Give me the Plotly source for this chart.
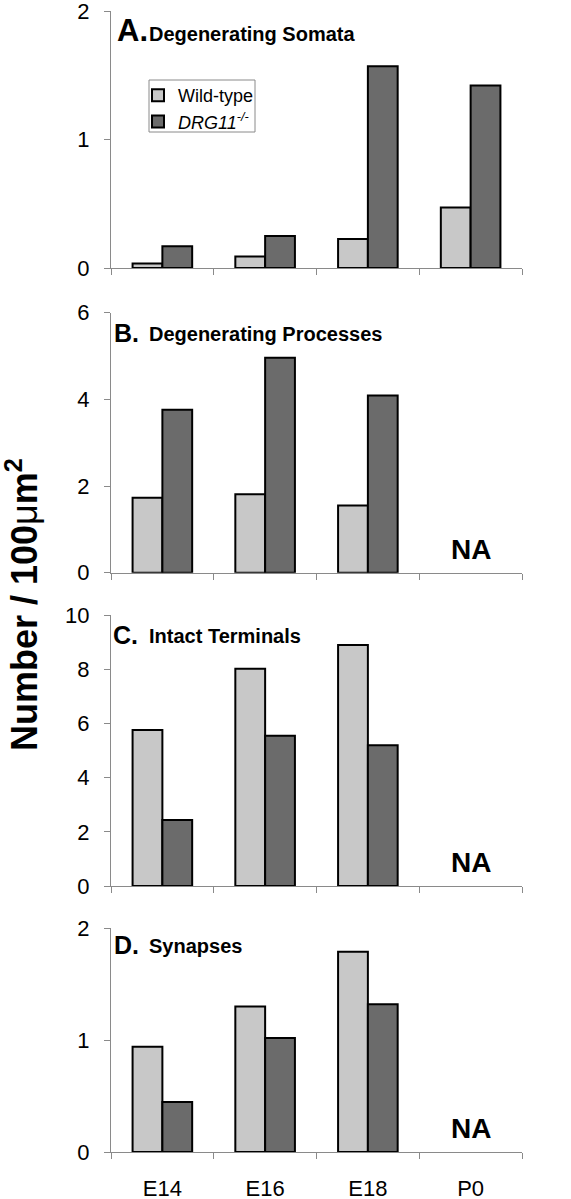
import plotly.graph_objects as go

# ---- data ----
stages = ["E14", "E16", "E18", "P0"]
somata_wt = [0.035, 0.09, 0.225, 0.47]
somata_ko = [0.17, 0.25, 1.57, 1.42]
processes_wt = [1.73, 1.81, 1.55, None]
processes_ko = [3.76, 4.96, 4.09, None]
terminals_wt = [5.76, 8.03, 8.90, None]
terminals_ko = [2.44, 5.55, 5.20, None]
synapses_wt = [0.94, 1.30, 1.79, None]
synapses_ko = [0.447, 1.02, 1.32, None]

panel_letters = ["A.", "B.", "C.", "D."]
panel_titles = ["Degenerating Somata", "Degenerating Processes", "Intact Terminals", "Synapses"]
y_max = [2, 6, 10, 2]
y_dtick = [1, 2, 2, 1]
na_flags = [False, True, True, True]

W, H = 571, 1199
L, R = 111, 522
PW = R - L

def px_x(x):
    return (x - L) / PW

def px_y(y):
    return 1 - y / H

# pixel extents (top, bottom) of each panel plot area
panel_px = [(11, 268), (312.7, 572.7), (615.3, 886), (928.3, 1152)]
letter_pos = [(115, 19, 31), (112, 20, 25), (111, 20, 25), (112, 17, 25)]  # x, y-offset, size
sub_off = [23, 21, 21, 18]

WT_COLOR = "#c8c8c8"
KO_COLOR = "#6b6b6b"
AX_COLOR = "#8a8a8a"
FONT = "Liberation Sans, Arial, sans-serif"

series = [
    (somata_wt, somata_ko),
    (processes_wt, processes_ko),
    (terminals_wt, terminals_ko),
    (synapses_wt, synapses_ko),
]

fig = go.Figure()
layout = {}
annotations = []

for i, (wt, ko) in enumerate(series):
    n = i + 1
    xa = "x" if n == 1 else f"x{n}"
    ya = "y" if n == 1 else f"y{n}"
    fig.add_trace(go.Bar(
        x=stages, y=wt, name="Wild-type", xaxis=xa, yaxis=ya,
        marker=dict(color=WT_COLOR, line=dict(color="black", width=2)),
        showlegend=(i == 0), legendgroup="wt", offsetgroup="wt",
    ))
    fig.add_trace(go.Bar(
        x=stages, y=ko, name="<i>DRG11<sup>-/-</sup></i>", xaxis=xa, yaxis=ya,
        marker=dict(color=KO_COLOR, line=dict(color="black", width=2)),
        showlegend=(i == 0), legendgroup="ko", offsetgroup="ko",
    ))
    top, bot = panel_px[i]
    xkey = "xaxis" if n == 1 else f"xaxis{n}"
    ykey = "yaxis" if n == 1 else f"yaxis{n}"
    layout[xkey] = dict(
        domain=[0, 1], anchor=ya, type="category",
        categoryorder="array", categoryarray=stages, range=[-0.5, 3.5],
        showline=True, linecolor=AX_COLOR, linewidth=1.2,
        ticks="outside", tickson="boundaries", ticklen=6, tickcolor=AX_COLOR, tickwidth=1.2,
        showticklabels=(n == 4), tickfont=dict(size=22, color="black", family=FONT),
        ticklabelstandoff=16, ticklabeloverflow="allow",
        showgrid=False, zeroline=False, fixedrange=True,
    )
    layout[ykey] = dict(
        domain=[px_y(bot), px_y(top)], anchor=xa, range=[0, y_max[i]],
        dtick=y_dtick[i], tick0=0,
        showline=True, linecolor=AX_COLOR, linewidth=1.2,
        ticks="outside", ticklen=6, tickcolor=AX_COLOR, tickwidth=1.2,
        tickfont=dict(size=22, color="black", family=FONT),
        ticklabelstandoff=10, ticklabeloverflow="allow",
        showgrid=False, zeroline=False, fixedrange=True,
    )
    lx, loff, lsize = letter_pos[i]
    annotations.append(dict(
        text=f"<b>{panel_letters[i]}</b>", xref="paper", yref="paper",
        x=px_x(lx), y=px_y(top + loff), xanchor="left", yanchor="middle",
        showarrow=False, font=dict(size=lsize, color="black", family=FONT),
    ))
    annotations.append(dict(
        text=f"<b>{panel_titles[i]}</b>", xref="paper", yref="paper",
        x=px_x(147), y=px_y(top + sub_off[i]), xanchor="left", yanchor="middle",
        showarrow=False, font=dict(size=20, color="black", family=FONT),
    ))
    if na_flags[i]:
        annotations.append(dict(
            text="<b>NA</b>", xref=xa, yref=ya, x="P0", y=0,
            xanchor="center", yanchor="bottom", yshift=6,
            showarrow=False, font=dict(size=28, color="black", family=FONT),
        ))

annotations.append(dict(
    text="<b>Number / 100</b>μ<b>m<sup>2</sup></b>", xref="paper", yref="paper",
    x=px_x(22), y=px_y(605), xanchor="center", yanchor="middle", textangle=-90,
    showarrow=False, font=dict(size=36, color="black", family=FONT),
))

fig.update_layout(
    **layout,
    width=W, height=H,
    margin=dict(l=L, r=W - R, t=0, b=0, autoexpand=False),
    paper_bgcolor="white", plot_bgcolor="white",
    barmode="group", bargap=0.42, bargroupgap=0,
    font=dict(family=FONT, color="black"),
    legend=dict(
        x=px_x(138), y=px_y(77), xanchor="left", yanchor="top",
        bgcolor="rgba(0,0,0,0)", borderwidth=0,
        font=dict(size=18, color="black", family=FONT),
        tracegroupgap=0, itemwidth=30,
    ),
    shapes=[dict(
        type="rect", xref="paper", yref="paper",
        x0=px_x(149), x1=px_x(255), y0=px_y(132), y1=px_y(80),
        line=dict(color=AX_COLOR, width=1), fillcolor="white", layer="below",
    )],
    annotations=annotations,
    showlegend=True,
)

fig.write_html("out.html", config={"displayModeBar": False},
               post_script="document.body.style.margin='0px';")
